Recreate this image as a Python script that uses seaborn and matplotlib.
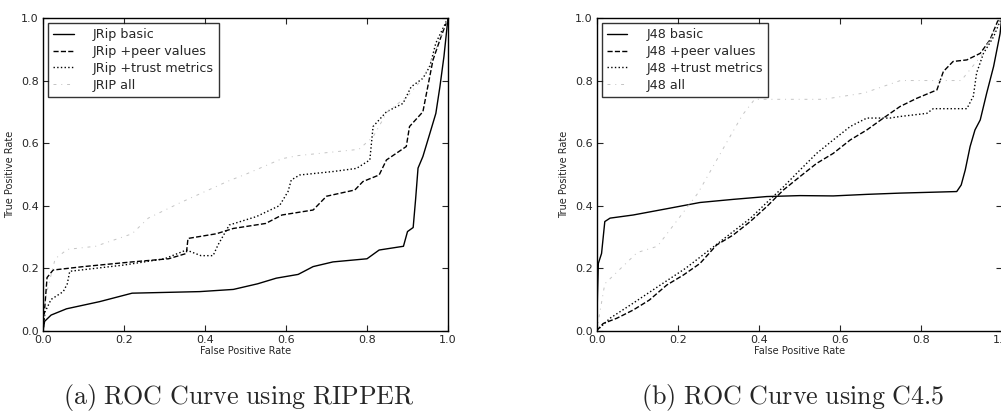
import pandas as pd
import matplotlib
matplotlib.use("Agg")
import matplotlib.pyplot as plt
import seaborn as sns

# ROC points (fpr, tpr)
jrip_basic_fpr = [0.0, 0.004, 0.02, 0.058, 0.14, 0.22, 0.387, 0.47, 0.53, 0.576, 0.63, 0.667, 0.716, 0.80, 0.83,
                  0.89, 0.90, 0.914, 0.92, 0.926, 0.938, 0.955, 0.97, 0.98, 0.99, 1.0]
jrip_basic_tpr = [0.0, 0.03, 0.05, 0.07, 0.093, 0.12, 0.125, 0.132, 0.15, 0.168, 0.18, 0.205, 0.22, 0.23, 0.258,
                  0.27, 0.317, 0.33, 0.42, 0.52, 0.557, 0.63, 0.695, 0.78, 0.877, 1.0]

jrip_peer_fpr = [0.0, 0.01, 0.025, 0.1, 0.22, 0.31, 0.354, 0.358, 0.428, 0.47, 0.55, 0.59, 0.667, 0.70, 0.77, 0.79,
                 0.83, 0.848, 0.897, 0.905, 0.938, 0.95, 0.963, 0.98, 1.0]
jrip_peer_tpr = [0.0, 0.17, 0.194, 0.205, 0.22, 0.23, 0.247, 0.295, 0.31, 0.327, 0.343, 0.37, 0.386, 0.43, 0.45,
                 0.477, 0.498, 0.546, 0.589, 0.653, 0.70, 0.78, 0.866, 0.93, 1.0]

jrip_trust_fpr = [0.0, 0.005, 0.02, 0.05, 0.06, 0.066, 0.2, 0.3, 0.354, 0.39, 0.42, 0.432, 0.46, 0.527, 0.584,
                  0.605, 0.613, 0.634, 0.716, 0.774, 0.807, 0.815, 0.848, 0.889, 0.909, 0.938, 0.955, 0.97, 1.0]
jrip_trust_tpr = [0.0, 0.06, 0.1, 0.125, 0.15, 0.19, 0.21, 0.23, 0.258, 0.24, 0.24, 0.274, 0.338, 0.365, 0.40,
                  0.445, 0.482, 0.498, 0.509, 0.519, 0.546, 0.653, 0.70, 0.727, 0.78, 0.807, 0.845, 0.92, 1.0]

jrip_all_fpr = [0.0, 0.005, 0.03, 0.06, 0.13, 0.22, 0.26, 0.34, 0.46, 0.5, 0.59, 0.63, 0.78, 0.815, 0.85, 0.9,
                0.94, 0.97, 1.0]
jrip_all_tpr = [0.0, 0.1, 0.23, 0.26, 0.27, 0.31, 0.36, 0.41, 0.48, 0.5, 0.55, 0.56, 0.58, 0.62, 0.70, 0.75,
                0.81, 0.9, 1.0]

j48_basic_fpr = [0.0, 0.002, 0.004, 0.012, 0.02, 0.033, 0.09, 0.173, 0.255, 0.337, 0.42, 0.502, 0.584, 0.667,
                 0.749, 0.889, 0.90, 0.91, 0.922, 0.934, 0.947, 0.963, 0.98, 0.996, 1.0]
j48_basic_tpr = [0.0, 0.12, 0.215, 0.247, 0.349, 0.36, 0.37, 0.39, 0.41, 0.42, 0.429, 0.432, 0.431, 0.436,
                 0.44, 0.445, 0.466, 0.514, 0.589, 0.642, 0.674, 0.76, 0.845, 0.95, 1.0]

j48_peer_fpr = [0.0, 0.016, 0.05, 0.09, 0.13, 0.173, 0.214, 0.255, 0.296, 0.337, 0.379, 0.42, 0.461, 0.502, 0.543,
                0.584, 0.626, 0.667, 0.708, 0.749, 0.79, 0.84, 0.856, 0.88, 0.914, 0.947, 0.971, 0.99, 1.0]
j48_peer_tpr = [0.0, 0.023, 0.04, 0.066, 0.098, 0.146, 0.178, 0.215, 0.274, 0.306, 0.349, 0.397, 0.45, 0.493,
                0.535, 0.567, 0.61, 0.642, 0.68, 0.717, 0.743, 0.77, 0.829, 0.861, 0.866, 0.887, 0.93, 0.99, 1.0]

j48_trust_fpr = [0.0, 0.033, 0.09, 0.15, 0.22, 0.3, 0.38, 0.42, 0.461, 0.502, 0.543, 0.584, 0.626, 0.667, 0.724,
                 0.749, 0.815, 0.831, 0.914, 0.93, 0.938, 0.955, 0.98, 0.996, 1.0]
j48_trust_tpr = [0.0, 0.04, 0.088, 0.14, 0.2, 0.28, 0.36, 0.41, 0.46, 0.514, 0.567, 0.61, 0.653, 0.68, 0.68,
                 0.685, 0.695, 0.71, 0.71, 0.75, 0.824, 0.887, 0.94, 0.99, 1.0]

j48_all_fpr = [0.0, 0.02, 0.1, 0.15, 0.25, 0.32, 0.36, 0.39, 0.56, 0.66, 0.75, 0.9, 0.95, 1.0]
j48_all_tpr = [0.0, 0.15, 0.25, 0.27, 0.44, 0.6, 0.69, 0.74, 0.74, 0.76, 0.8, 0.8, 0.88, 1.0]

ripper_names = ["JRip basic", "JRip +peer values", "JRip +trust metrics", "JRIP all"]
c45_names = ["J48 basic", "J48 +peer values", "J48 +trust metrics", "J48 all"]
ticks = [0.0, 0.2, 0.4, 0.6, 0.8, 1.0]

# the "all" curve is almost washed out in the scan
styles = [("-", "black", 1.0), ("--", "black", 1.0), (":", "black", 1.0),
          ((0, (3, 5, 1, 5)), "#c4c4c4", 0.7)]


def roc_panel(ax, names, curves, caption, cap_x):
    for name, (fpr, tpr), (ls, col, lw) in zip(names, curves, styles):
        df = pd.DataFrame({"fpr": fpr, "tpr": tpr})
        sns.lineplot(data=df, x="fpr", y="tpr", ax=ax, sort=False, estimator=None,
                     color=col, linestyle=ls, linewidth=lw, label=name)
    ax.set_xlim(0, 1)
    ax.set_ylim(0, 1)
    ax.set_xticks(ticks)
    ax.set_yticks(ticks)
    ax.set_xticklabels([f"{t:.1f}" for t in ticks])
    ax.set_yticklabels([f"{t:.1f}" for t in ticks])
    ax.tick_params(direction="in", top=True, right=True, labelsize=8, length=4, width=0.8, pad=3)
    ax.set_xlabel("False Positive Rate", fontsize=7, labelpad=1)
    ax.set_ylabel("True Positive Rate", fontsize=7, labelpad=4)
    for sp in ax.spines.values():
        sp.set_linewidth(1.0)
        sp.set_color("black")
    leg = ax.legend(loc="upper left", fontsize=9.2, frameon=True, fancybox=False,
                    handlelength=1.6, borderpad=0.4, labelspacing=0.3, handletextpad=1.5,
                    borderaxespad=0.4)
    leg.get_frame().set_edgecolor("black")
    leg.get_frame().set_linewidth(1.0)
    ax.figure.text(cap_x, 0.036, caption, ha="center", va="center", fontsize=18.7)


sns.set_style("ticks")
plt.rcParams["font.family"] = ["DejaVu Sans"]
plt.rcParams["mathtext.fontset"] = "cm"

fig = plt.figure(figsize=(10.01, 4.12), dpi=100)
ax1 = fig.add_axes([43 / 1001, 81.3 / 412, 405 / 1001, 312.7 / 412])
ax2 = fig.add_axes([596.7 / 1001, 81.3 / 412, 405 / 1001, 312.7 / 412])

roc_panel(ax1, ripper_names,
          [(jrip_basic_fpr, jrip_basic_tpr), (jrip_peer_fpr, jrip_peer_tpr),
           (jrip_trust_fpr, jrip_trust_tpr), (jrip_all_fpr, jrip_all_tpr)],
          r"$\mathrm{(a)\ ROC\ Curve\ using\ RIPPER}$", 239 / 1001)
roc_panel(ax2, c45_names,
          [(j48_basic_fpr, j48_basic_tpr), (j48_peer_fpr, j48_peer_tpr),
           (j48_trust_fpr, j48_trust_tpr), (j48_all_fpr, j48_all_tpr)],
          r"$\mathrm{(b)\ ROC\ Curve\ using\ C4.5}$", 793 / 1001)

fig.savefig("out.png", dpi=100)
